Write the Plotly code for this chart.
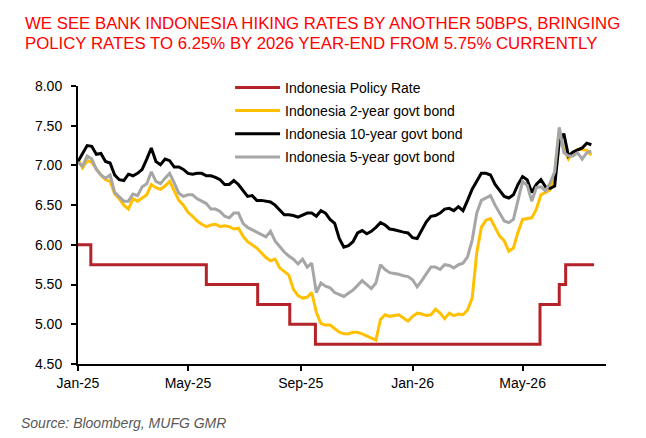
import pandas as pd
import plotly.graph_objects as go

# weekly-ish sample grid (every 5 days from 1 Jan 2025)
dates = pd.date_range("2025-01-01", periods=113, freq="5D")

bond_2y = [
    7.07, 6.97, 7.06, 7.04, 6.96, 6.88, 6.82, 6.80, 6.64, 6.58,
    6.50, 6.45, 6.58, 6.55, 6.59, 6.63, 6.76, 6.72, 6.70, 6.74,
    6.80, 6.68, 6.56, 6.50, 6.41, 6.36, 6.30, 6.26, 6.23, 6.25,
    6.26, 6.23, 6.24, 6.23, 6.20, 6.21, 6.11, 6.04, 6.00, 5.96,
    5.90, 5.84, 5.80, 5.82, 5.71, 5.66, 5.62, 5.44, 5.36, 5.33,
    5.34, 5.40, 5.15, 5.01, 4.99, 4.99, 4.94, 4.90, 4.88, 4.88,
    4.90, 4.90, 4.88, 4.85, 4.83, 4.80, 5.06, 5.12, 5.10, 5.11,
    5.12, 5.08, 5.04, 5.10, 5.14, 5.13, 5.11, 5.12, 5.19, 5.14,
    5.07, 5.14, 5.11, 5.13, 5.12, 5.18, 5.33, 5.90, 6.22, 6.31,
    6.33, 6.22, 6.11, 6.05, 5.92, 5.96, 6.16, 6.32, 6.33, 6.34,
    6.45, 6.63, 6.66, 6.69, 6.90, 7.44, 7.20, 7.08, 7.16, 7.20,
    7.20, 7.19, 7.13,
]

bond_10y = [
    7.05, 7.15, 7.25, 7.24, 7.14, 7.15, 7.05, 7.03, 6.88, 6.82,
    6.81, 6.89, 6.87, 6.90, 6.95, 7.08, 7.22, 7.05, 7.01, 7.08,
    7.06, 6.98, 6.98, 6.95, 6.90, 6.89, 6.90, 6.90, 6.87, 6.87,
    6.85, 6.82, 6.76, 6.76, 6.81, 6.76, 6.68, 6.61, 6.62, 6.56,
    6.56, 6.55, 6.54, 6.50, 6.44, 6.38, 6.38, 6.37, 6.35, 6.38,
    6.40, 6.40, 6.36, 6.43, 6.40, 6.32, 6.27, 6.08, 5.97, 5.99,
    6.04, 6.15, 6.18, 6.14, 6.17, 6.22, 6.28, 6.25, 6.20, 6.19,
    6.17, 6.16, 6.15, 6.09, 6.08, 6.18, 6.29, 6.36, 6.37, 6.40,
    6.45, 6.46, 6.43, 6.48, 6.43, 6.56, 6.70, 6.80, 6.90, 6.90,
    6.88, 6.76, 6.68, 6.61, 6.59, 6.63, 6.76, 6.86, 6.82, 6.66,
    6.76, 6.82, 6.73, 6.71, 6.74, 7.30, 7.40, 7.12, 7.17, 7.20,
    7.22, 7.28, 7.26,
]

bond_5y = [
    7.04, 6.99, 7.12, 7.08, 6.95, 6.88, 6.84, 6.88, 6.66, 6.60,
    6.55, 6.55, 6.64, 6.62, 6.73, 6.77, 6.92, 6.80, 6.77, 6.84,
    6.90, 6.78, 6.65, 6.61, 6.63, 6.63, 6.58, 6.55, 6.52, 6.45,
    6.45, 6.42, 6.36, 6.34, 6.40, 6.40, 6.27, 6.22, 6.19, 6.16,
    6.12, 6.10, 6.17, 6.05, 5.98, 5.91, 5.86, 5.82, 5.76, 5.82,
    5.72, 5.77, 5.40, 5.52, 5.48, 5.46, 5.40, 5.37, 5.35, 5.39,
    5.43, 5.49, 5.55, 5.50, 5.45, 5.52, 5.75, 5.69, 5.65, 5.64,
    5.63, 5.61, 5.60, 5.56, 5.47, 5.55, 5.63, 5.72, 5.72, 5.69,
    5.75, 5.74, 5.71, 5.75, 5.77, 5.85, 6.06, 6.40, 6.56, 6.59,
    6.62, 6.50, 6.40, 6.30, 6.28, 6.32, 6.56, 6.80, 6.75, 6.55,
    6.72, 6.73, 6.68, 6.78, 6.92, 7.48, 7.16, 7.12, 7.12, 7.16,
    7.08, 7.16, 7.18,
]

# policy rate decisions (step line)
policy_dates = ["2025-01-01", "2025-01-15", "2025-05-21", "2025-07-16", "2025-08-20",
                "2025-09-17", "2026-05-20", "2026-06-10", "2026-06-17", "2026-07-18"]
policy_rate = [6.00, 5.75, 5.50, 5.25, 5.00, 4.75, 5.25, 5.50, 5.75, 5.75]

FONT = "Arial, Liberation Sans, sans-serif"

fig = go.Figure()
fig.add_trace(go.Scatter(x=policy_dates, y=policy_rate, name="Indonesia Policy Rate",
                         mode="lines", line=dict(color="#B5232A", width=3, shape="hv"),
                         legendgroup="a"))
fig.add_trace(go.Scatter(x=dates, y=bond_2y, name="Indonesia 2-year govt bond",
                         mode="lines", line=dict(color="#FFC000", width=3),
                         legendgroup="b"))
fig.add_trace(go.Scatter(x=dates, y=bond_10y, name="Indonesia 10-year govt bond",
                         mode="lines", line=dict(color="#000000", width=3),
                         legendgroup="c"))
fig.add_trace(go.Scatter(x=dates, y=bond_5y, name="Indonesia 5-year govt bond",
                         mode="lines", line=dict(color="#A6A6A6", width=3),
                         legendgroup="d"))

# page is drawn with an 8px body offset, margins compensate for it
fig.update_layout(
    width=646, height=438,
    margin=dict(l=70, r=48, t=78, b=82),
    paper_bgcolor="white", plot_bgcolor="white",
    font=dict(family=FONT, size=14, color="#000000"),
    showlegend=True,
    legend=dict(x=0.288, y=1.051, xanchor="left", yanchor="top",
                traceorder="grouped", tracegroupgap=2,
                font=dict(size=14), bgcolor="rgba(0,0,0,0)", itemwidth=45),
    xaxis=dict(type="date", range=["2025-01-01", "2026-07-31"],
               tick0="2025-01-01", dtick="M4", tickformat="%b-%y",
               showline=True, linecolor="black", linewidth=2,
               ticks="outside", ticklen=5, tickwidth=2, tickcolor="black",
               showgrid=False, zeroline=False, tickfont=dict(size=14)),
    yaxis=dict(range=[4.5, 8.0], dtick=0.5, tick0=4.5, tickformat=".2f",
               showline=True, linecolor="black", linewidth=2,
               ticks="outside", ticklen=5, tickwidth=2, tickcolor="black",
               ticklabelstandoff=6,
               showgrid=False, zeroline=False, tickfont=dict(size=14)),
    shapes=[dict(type="line", xref="paper", yref="paper",
                 x0=-0.106, x1=1.051, y0=1.302, y1=1.302,
                 line=dict(color="#FF0000", width=1.5))],
    annotations=[
        dict(text="WE SEE BANK INDONESIA HIKING RATES BY ANOTHER 50BPS, BRINGING",
             xref="paper", yref="paper", x=-0.1044, y=1.2255, xanchor="left", yanchor="middle",
             showarrow=False, font=dict(size=16.8, color="#FF0000")),
        dict(text="POLICY RATES TO 6.25% BY 2026 YEAR-END FROM 5.75% CURRENTLY",
             xref="paper", yref="paper", x=-0.1044, y=1.1536, xanchor="left", yanchor="middle",
             showarrow=False, font=dict(size=16.8, color="#FF0000")),
        dict(text="<i>Source: Bloomberg, MUFG GMR</i>",
             xref="paper", yref="paper", x=-0.112, y=-0.212, xanchor="left", yanchor="middle",
             showarrow=False, font=dict(size=14, color="#595959")),
    ],
)

fig.write_html("out.html")
